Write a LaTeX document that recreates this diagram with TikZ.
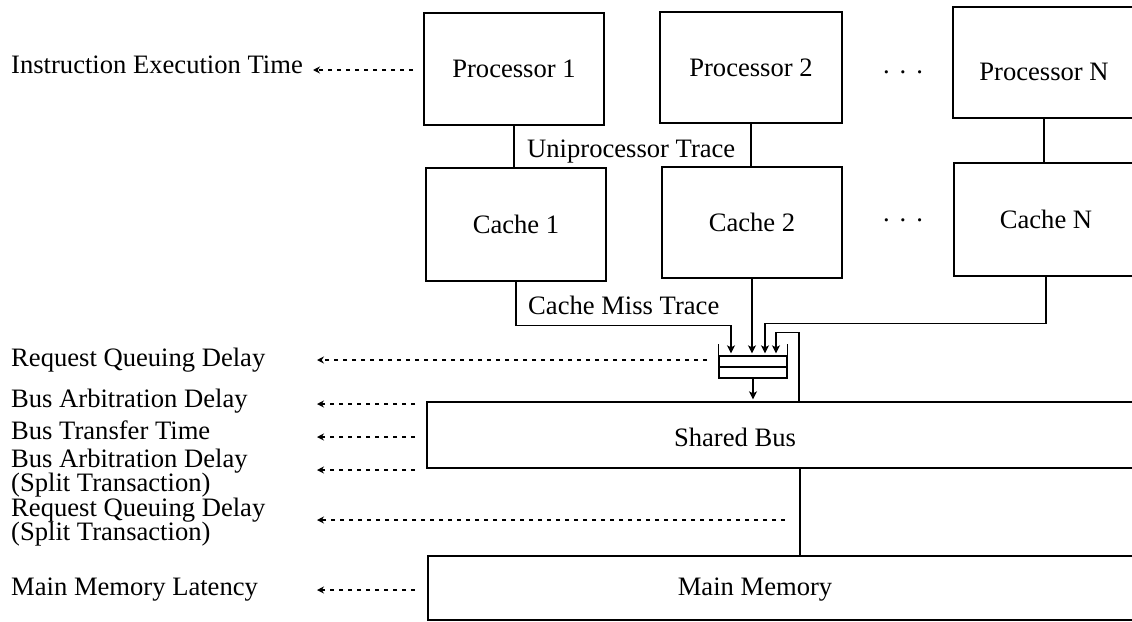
\documentclass[tikz,border=0pt]{standalone}
\usepackage{fontspec}
\setmainfont{Liberation Serif}
\usetikzlibrary{arrows.meta}
\begin{document}
\begin{tikzpicture}[x=1pt,y=-1pt,
  fnt/.style={font=\fontsize{26.6}{28}\selectfont},
  box/.style={draw, line width=1.3pt, inner sep=0pt, fnt},
  lbl/.style={anchor=base west, inner sep=0pt, fnt},
  txt/.style={inner sep=0pt, fnt},
  conn/.style={line width=1.3pt},
  arr/.style={conn, -{Stealth[length=8pt,width=8pt,inset=2pt]}, shorten >=2pt},
  darr/.style={line width=1.2pt, dash pattern=on 4.5pt off 4.5pt, -{Stealth[length=7pt,width=7pt]}},
]
\useasboundingbox (0,0) rectangle (1132,621);
\begin{scope}
\clip (0,0) rectangle (1132,621);
% processors
\node[box, minimum width=180pt, minimum height=112pt] (p1) at (514,69) {Processor 1};
\node[box, minimum width=182pt, minimum height=111pt] (p2) at (751,67.5) {Processor 2};
\node[box, minimum width=182pt, minimum height=111pt, text height=36pt, text depth=0pt] (pN) at (1044,62.5) {Processor N};
% caches
\node[box, minimum width=180pt, minimum height=113pt] (c1) at (516,224.5) {Cache 1};
\node[box, minimum width=180pt, minimum height=111pt] (c2) at (752,222.5) {Cache 2};
\node[box, minimum width=184pt, minimum height=113pt] (cN) at (1046,219.5) {Cache N};
% dots
\node[txt] (d1) at (903,72) {.\hspace{10pt}.\hspace{10pt}.};
\node[txt] (d2) at (903,220) {.\hspace{10pt}.\hspace{10pt}.};
% processor-cache links
\draw[conn] (p1.south) -- (p1.south |- c1.north);
\draw[conn] (p2.south) -- (p2.south |- c2.north);
\draw[conn] (pN.south) -- (pN.south |- cN.north);
\node[lbl] (ut) at (527,157) {Uniprocessor Trace};
\node[lbl] (cmt) at (528,314) {Cache Miss Trace};
% bus and memory
\node[box, minimum width=712pt, minimum height=66pt] (bus) at (783,435) {};
\node[txt] (buslbl) at (735,437) {Shared Bus};
\node[box, minimum width=711pt, minimum height=64pt] (mm) at (783.5,588) {};
\node[txt] (mmlbl) at (755,590) {Main Memory};
% queue
\node[draw, line width=1.3pt, minimum width=68pt, minimum height=22pt, inner sep=0pt] (q) at (753,367) {};
\draw[conn] (q.west) -- (q.east);
\draw[conn] (q.north west) -- ++(0,-11);
\draw[conn] (q.north east) -- ++(0,-11);
% cache miss links
\draw[arr] (c1.south) -- ++(0,44) -| ([xshift=-22pt]q.north);
\draw[arr] (c2.south) -- (c2.south |- q.north);
\draw[arr] (cN.south) -- ++(0,47) -| ([xshift=12pt]q.north);
\draw[arr] ([xshift=16pt]bus.north) -- ++(0,-69) -| ([xshift=23pt]q.north);
\draw[arr] (q.south) -- (q.south |- bus.north);
\draw[conn] ([xshift=17pt]bus.south) -- ([xshift=17pt]bus.south |- mm.north);
% left labels
\node[lbl] (l1) at (11,73) {Instruction Execution Time};
\node[lbl] (l2) at (11,366) {Request Queuing Delay};
\node[lbl] (l3) at (11,407) {Bus Arbitration Delay};
\node[lbl] (l4) at (11,439) {Bus Transfer Time};
\node[lbl] (l5) at (11,467) {Bus Arbitration Delay};
\node[lbl] (l5b) at (11,491) {(Split Transaction)};
\node[lbl] (l6) at (11,516) {Request Queuing Delay};
\node[lbl] (l6b) at (11,540) {(Split Transaction)};
\node[lbl] (l7) at (11,595) {Main Memory Latency};
% dashed arrows
\coordinate (a1s) at (413,70);  \coordinate (a1e) at (313,70);
\coordinate (a2s) at (707,360); \coordinate (a2e) at (317,360);
\coordinate (a3s) at (415,404); \coordinate (a3e) at (317,404);
\coordinate (a4s) at (415,437); \coordinate (a4e) at (317,437);
\coordinate (a5s) at (415,470); \coordinate (a5e) at (317,470);
\coordinate (a6s) at (785,520); \coordinate (a6e) at (317,520);
\coordinate (a7s) at (415,590); \coordinate (a7e) at (317,590);
\foreach \i in {1,...,7} {\draw[darr] (a\i s) -- (a\i e);}
\end{scope}
\end{tikzpicture}
\end{document}
